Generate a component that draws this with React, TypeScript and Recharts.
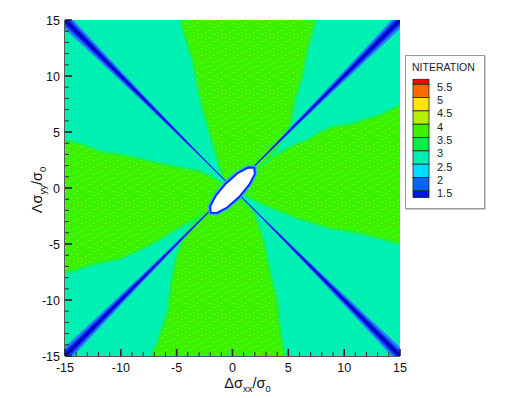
import React from 'react'
import { ScatterChart, Scatter, XAxis, YAxis, Label } from 'recharts'

// contour region outlines in data units [x, y]
const topGreen = [
  [-4.7, 15.6], [7.5, 15.6], [7.4, 14.8], [6.7, 12.3], [6.25, 9.9], [5.6, 7.9],
  [5.2, 5.7], [4.3, 4.0], [3.4, 2.8], [2.5, 1.95], [1.9, 1.75], [0, 0],
  [-0.55, 0.55], [-0.9, 1.0], [-1.96, 4.6], [-2.86, 7.7], [-3.57, 11.3], [-4.64, 14.8],
]
const rightGreen = [
  [2.5, 1.95], [3.66, 2.8], [5.2, 3.7], [6.7, 4.3], [7.9, 5.0], [9.0, 5.5],
  [10.5, 5.7], [13.2, 6.5], [15, 7.4], [15.6, 7.6], [15.6, -5.3], [15, -5.0],
  [11.7, -4.1], [8.75, -3.6], [5.8, -2.7], [2.8, -1.5], [1.0, -0.6], [0.55, -0.5],
  [0, 0], [1.9, 1.75],
]
const bottomGreen = [
  [4.7, -15.6], [-7.4, -15.6], [-7.3, -15], [-6.8, -14], [-6.3, -12.5], [-5.8, -11],
  [-5.5, -8.5], [-5.0, -6.0], [-4.3, -4.2], [-3.4, -3.0], [-2.6, -2.35], [-1.95, -2.2],
  [0, 0], [0.55, -0.6], [1.0, -1.2], [1.9, -2.1], [2.8, -4.76], [3.4, -7.7],
  [4.0, -10.1], [4.3, -13], [4.7, -15],
]
const leftGreen = [
  [-1.95, -2.2], [-2.6, -2.35], [-3.6, -2.9], [-5, -3.7], [-6.5, -4.6], [-8, -5.4],
  [-10, -6.3], [-12.4, -6.8], [-15, -7.6], [-15.6, -7.7], [-15.6, 4.5], [-15, 4.3],
  [-13.5, 3.9], [-11.8, 3.25], [-9.5, 2.9], [-7.3, 2.36], [-5, 1.9], [-2.86, 1.47],
  [-1.5, 0.8], [-0.8, 0.35], [0, 0],
]
const plotSquare = [[-15.6, -15.6], [15.6, -15.6], [15.6, 15.6], [-15.6, 15.6]]

// low-iteration bands along the two diagonals: distance from centre, vertical half width
const bandDist = [0, 1, 2.5, 4, 6, 8, 10, 12, 14, 16]
const bandHalf = [0.05, 0.07, 0.1, 0.15, 0.24, 0.34, 0.46, 0.6, 0.74, 0.88]

// the unconverged hole in the middle
const hole = [
  [1.95, 1.8], [1.39, 1.83], [0.45, 1.32], [-0.61, 0.39], [-1.5, -0.69], [-2.0, -1.64],
  [-1.95, -2.2], [-1.39, -2.23], [-0.45, -1.72], [0.61, -0.79], [1.5, 0.29], [2.0, 1.24],
]

const xTicks = [-15, -14, -13, -12, -11, -10, -9, -8, -7, -6, -5, -4, -3, -2, -1, 0,
  1, 2, 3, 4, 5, 6, 7, 8, 9, 10, 11, 12, 13, 14, 15]
const yTicks = xTicks

const legendLabels = ['5.5', '5', '4.5', '4', '3.5', '3', '2.5', '2', '1.5']
const legendColors = ['#ff0000', '#ff6a00', '#ffe600', '#b4f000', '#3cf000', '#00ee48',
  '#00f0b4', '#00dcff', '#0064ff', '#0014e6']

const CYAN = '#00f0b4'
const FONT = 'Liberation Sans, Arial, sans-serif'

const toPts = (arr: number[][]) => arr.map(([x, y]) => ({ x, y }))

function band(slope: number, k: number) {
  const xs: number[] = []
  const hs: number[] = []
  for (let i = bandDist.length - 1; i > 0; i--) { xs.push(-bandDist[i]); hs.push(bandHalf[i] * k) }
  for (let i = 0; i < bandDist.length; i++) { xs.push(bandDist[i]); hs.push(bandHalf[i] * k) }
  const upper = xs.map((x, i) => ({ x, y: slope * x + hs[i] }))
  const lower = xs.map((x, i) => ({ x, y: slope * x - hs[i] })).reverse()
  return [...upper, ...lower]
}

const NoDot = () => <g />

const XTick = (props: any) => {
  const { x, y, payload } = props
  const major = payload.value % 5 === 0
  return (
    <g>
      <line x1={x} x2={x} y1={y} y2={y - (major ? 7 : 4)} stroke="#222" strokeWidth={major ? 1.6 : 1} />
      {major && (
        <text x={x} y={y + 16} textAnchor="middle" fontSize={12.5} fontFamily={FONT} fill="#111">
          {payload.value}
        </text>
      )}
    </g>
  )
}

const YTick = (props: any) => {
  const { x, y, payload } = props
  const major = payload.value % 5 === 0
  return (
    <g>
      <line x1={x} x2={x + (major ? 7 : 4)} y1={y} y2={y} stroke="#222" strokeWidth={major ? 1.6 : 1} />
      {major && (
        <text x={x - 5} y={y + 4.5} textAnchor="end" fontSize={12.5} fontFamily={FONT} fill="#111">
          {payload.value}
        </text>
      )}
    </g>
  )
}

const XTitle = (props: any) => {
  const { viewBox } = props
  const cx = viewBox.x + viewBox.width / 2 + 15
  return (
    <text x={cx} y={380} textAnchor="middle" fontSize={14.5} fontFamily={FONT} fill="#111">
      Δσ<tspan fontSize={9.5} dy={4}>xx</tspan><tspan dy={-4}>/σ</tspan>
      <tspan fontSize={9.5} dy={4}>0</tspan>
    </text>
  )
}

const YTitle = () => (
  <text x={34} y={182} transform="rotate(-90 34 182)" textAnchor="middle" fontSize={14.5} fontFamily={FONT} fill="#111">
    Λσ<tspan fontSize={9.5} dy={4}>yy</tspan><tspan dy={-4}>/σ</tspan>
    <tspan fontSize={9.5} dy={4}>0</tspan>
  </text>
)

function ContourLegend() {
  const heights = [5, 13.3, 13.3, 13.3, 13.4, 13.3, 13.3, 13.4, 13.3, 6.7]
  let top = 23.3
  const rows = heights.map((h, i) => {
    const r = { y: top, h, color: legendColors[i] }
    top += h
    return r
  })
  return (
    <div
      style={{
        position: 'absolute', left: 397, top: 47, width: 78, height: 152,
        border: '1px solid #999', boxShadow: '1px 1px 0 #ccc', background: '#fff',
      }}
    >
      <svg width={78} height={152}>
        <text x={6} y={15} fontSize={10.5} fontFamily={FONT} fill="#222">NITERATION</text>
        {rows.map((r, i) => (
          <rect key={i} x={7} y={r.y} width={16} height={r.h} fill={r.color} stroke="#222" strokeWidth={0.8} />
        ))}
        {legendLabels.map((l, i) => (
          <text key={l} x={31} y={rows[i + 1].y + 6.5} fontSize={11} fontFamily={FONT} fill="#222">{l}</text>
        ))}
      </svg>
    </div>
  )
}

export default function App() {
  return (
    <div style={{ position: 'relative', width: 500, height: 390 }}>
      <svg width={0} height={0} style={{ position: 'absolute' }}>
        <defs>
          <pattern id="dots" width="12" height="7" patternUnits="userSpaceOnUse">
            <rect width="12" height="7" fill="#3cf000" />
            <rect x="1" y="5" width="1" height="1" fill="#ffd800" />
            <rect x="5" y="3" width="1" height="1" fill="#ffc000" />
            <rect x="9" y="1" width="1" height="1" fill="#ffd800" />
          </pattern>
        </defs>
      </svg>
      <ScatterChart width={500} height={390} margin={{ top: 12, right: 108, bottom: 0, left: 0 }}>
        <XAxis
          type="number" dataKey="x" domain={[-15, 15]} allowDataOverflow ticks={xTicks} interval={0}
          tickLine={false} tickSize={0} tickMargin={0} tick={<XTick />} height={42}
          axisLine={{ stroke: '#222', strokeWidth: 1.5 }}
        >
          <Label content={<XTitle />} />
        </XAxis>
        <YAxis
          type="number" dataKey="y" domain={[-15, 15]} allowDataOverflow ticks={yTicks} interval={0}
          tickLine={false} tickSize={0} tickMargin={0} tick={<YTick />} width={57}
          axisLine={{ stroke: '#222', strokeWidth: 1.5 }}
        >
          <Label content={<YTitle />} />
        </YAxis>
        <Scatter data={toPts(plotSquare)} shape={NoDot} line={{ fill: CYAN, stroke: 'none' }} lineJointType="linearClosed" isAnimationActive={false} />
        {[topGreen, rightGreen, bottomGreen, leftGreen].map((g, i) => (
          <Scatter key={'g' + i} data={toPts(g)} shape={NoDot} line={{ fill: 'url(#dots)', stroke: '#1cf04c', strokeWidth: 2.5 }} lineJointType="linearClosed" isAnimationActive={false} />
        ))}
        {[1, -1].map((s) => (
          <Scatter key={'o' + s} data={band(s, 1)} shape={NoDot} line={{ fill: '#2a80ff', stroke: 'none' }} lineJointType="linearClosed" isAnimationActive={false} />
        ))}
        {[1, -1].map((s) => (
          <Scatter key={'m' + s} data={band(s, 0.62)} shape={NoDot} line={{ fill: '#0a3cff', stroke: 'none' }} lineJointType="linearClosed" isAnimationActive={false} />
        ))}
        {[1, -1].map((s) => (
          <Scatter key={'c' + s} data={band(s, 0.3)} shape={NoDot} line={{ fill: '#0008c0', stroke: 'none' }} lineJointType="linearClosed" isAnimationActive={false} />
        ))}
        <Scatter data={toPts(hole)} shape={NoDot} line={{ fill: 'none', stroke: '#40a8ff', strokeWidth: 4.5 }} lineJointType="linearClosed" isAnimationActive={false} />
        <Scatter data={toPts(hole)} shape={NoDot} line={{ fill: '#ffffff', stroke: '#0030ff', strokeWidth: 2 }} lineJointType="linearClosed" isAnimationActive={false} />
      </ScatterChart>
      <ContourLegend />
    </div>
  )
}
